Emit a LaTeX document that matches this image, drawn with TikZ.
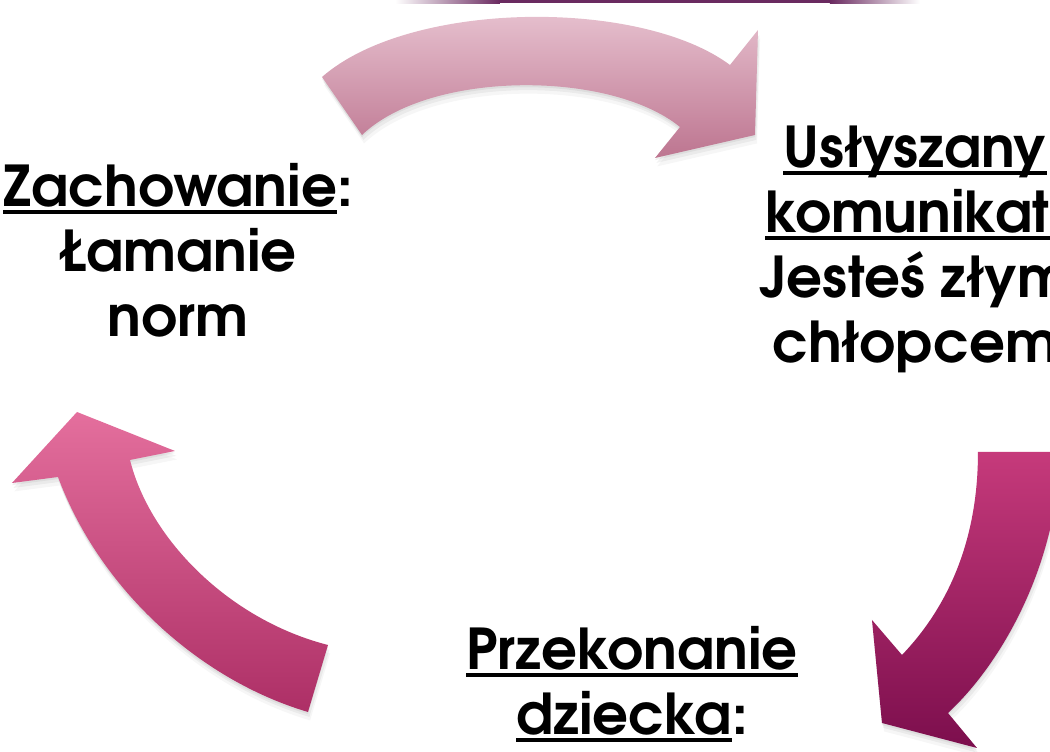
\documentclass[tikz,border=0pt]{standalone}
\usepackage{fontspec}
\setmainfont{texgyreadventor}[Extension=.otf, UprightFont=*-regular, BoldFont=*-bold]
\usetikzlibrary{shadows}

\definecolor{pasek}{HTML}{6A2A60}
\definecolor{gorajasna}{HTML}{EAC7D4}
\definecolor{goraciemna}{HTML}{BD7590}
\definecolor{prawajasna}{HTML}{C63A7B}
\definecolor{prawaciemna}{HTML}{7C0E4D}
\definecolor{lewajasna}{HTML}{E46F9D}
\definecolor{lewaciemna}{HTML}{AD2F66}

% podkreslenie na stalej glebokosci
\newcommand{\podkresl}[1]{\setbox0\hbox{#1}\rlap{\rule[-0.13em]{\wd0}{0.07em}}\box0}

\begin{document}
\begin{tikzpicture}[x=0.01cm, y=-0.01cm]
\tikzset{napis/.style={font=\fontsize{16}{18.5}\selectfont\bfseries, align=center, inner sep=0pt, anchor=base},
  strzalka/.style={draw=none,
    drop shadow={opacity=0.12, shadow xshift=0pt, shadow yshift=-0.6pt},
    drop shadow={opacity=0.10, shadow xshift=0.4pt, shadow yshift=-1.4pt},
    drop shadow={opacity=0.07, shadow xshift=0.6pt, shadow yshift=-2.4pt}}}
\useasboundingbox (0,0) rectangle (1050,752);
\clip (0,0) rectangle (1050,752);

% pasek u gory
\shade[left color=white, right color=pasek] (395,0) rectangle (500,3.5);
\fill[pasek] (500,0) rectangle (830,3.5);
\shade[left color=pasek, right color=white] (830,0) rectangle (920,3.5);

% strzalki
\path[strzalka, top color=gorajasna, bottom color=goraciemna]
  (322,77) .. controls (410,0) and (640,-2) .. (730,65) -- (758,30) -- (755,135)
  -- (655,158) -- (680,127) .. controls (610,70) and (430,70) .. (362,135) -- cycle;
\path[strzalka, top color=prawajasna, bottom color=prawaciemna]
  (978,452) -- (1060,452) .. controls (1058,560) and (1005,660) .. (948,713)
  -- (977,748) -- (882,723) -- (872,620) -- (902,655)
  .. controls (945,610) and (978,545) .. (978,452) -- cycle;
\path[strzalka, top color=lewajasna, bottom color=lewaciemna]
  (328,645) -- (308,712) .. controls (200,680) and (100,590) .. (58,477)
  -- (12,483) -- (77,412) -- (175,451) -- (130,460)
  .. controls (150,540) and (230,620) .. (328,645) -- cycle;

% napisy (base = ostatnia linia)
\node[napis] (zachowanie) at (178,337) {\podkresl{Zachowanie}:\\Łamanie\\norm};
\node[napis] (komunikat) at (915,363) {\podkresl{Usłyszany}\\\podkresl{komunikat:}\\Jesteś złym\\chłopcem};
\node[napis] (przekonanie) at (632,735) {\podkresl{Przekonanie}\\\podkresl{dziecka}:};
\end{tikzpicture}
\end{document}
